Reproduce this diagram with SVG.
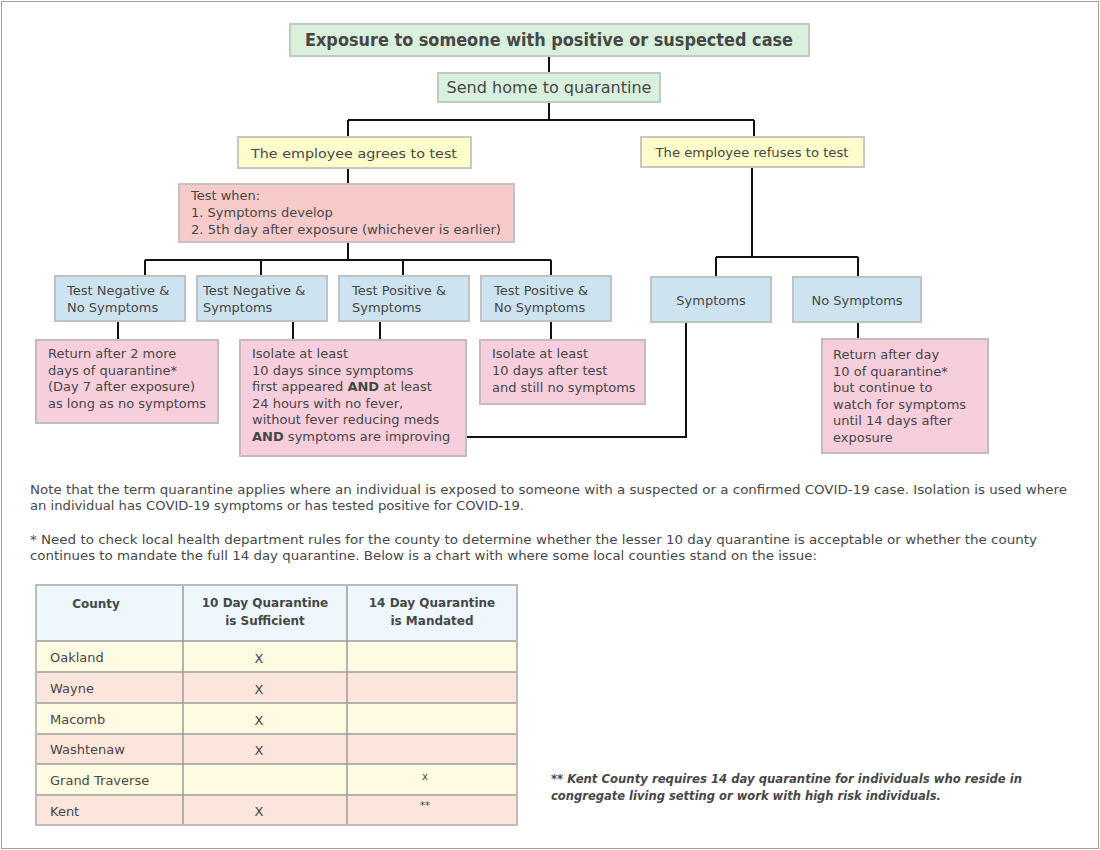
<svg xmlns="http://www.w3.org/2000/svg" width="1100" height="850" viewBox="0 0 1100 850">
<style>
text{font-family:"DejaVu Sans","Liberation Sans",sans-serif;fill:#474747;font-size:13px}
.green{fill:#d9f0dd;stroke:#c4c8c4;stroke-width:2}
.yellow{fill:#fdfdcb;stroke:#c8c8c0;stroke-width:2}
.salmon{fill:#f8cbcb;stroke:#c8c0c0;stroke-width:2}
.blue{fill:#cde3ef;stroke:#bcc2c6;stroke-width:2}
.pink{fill:#f6cedc;stroke:#c2bcbe;stroke-width:2}
.c{text-anchor:middle}
.conn{fill:none;stroke:#111;stroke-width:2}
.grid{stroke:#9c9c9c;stroke-width:1.5;fill:none}
.th{font-weight:bold;font-size:12px}
.note{font-size:12.5px}
</style>
<rect x="1.5" y="1.5" width="1097" height="847" fill="#fff" stroke="#a0a0a0" stroke-width="1"/>

<g id="connectors">
<path class="conn" d="M549 56V73M549 102V120M348 120H754M348 120V137M754 120V137"/>
<path class="conn" d="M348 168V184M348 242V260M145 260H551M145 260V276M261 260V276M403 260V276M551 260V276"/>
<path class="conn" d="M752 167V257M716 257H858M716 257V277M858 257V277"/>
<path class="conn" d="M118 321V340M293 321V340M380 321V340M551 321V340M858 322V339"/>
<path class="conn" d="M466 437H686V322"/>
</g>

<g id="n-exposure">
<rect class="green" x="290" y="24" width="519" height="32"/>
<text class="c" x="549" y="46" style="font-weight:bold;font-size:17px" textLength="488" lengthAdjust="spacingAndGlyphs">Exposure to someone with positive or suspected case</text>
</g>
<g id="n-sendhome">
<rect class="green" x="438" y="73" width="222" height="29"/>
<text class="c" x="549" y="93" style="font-size:15.5px" textLength="205" lengthAdjust="spacingAndGlyphs">Send home to quarantine</text>
</g>
<g id="n-agrees">
<rect class="yellow" x="238" y="137" width="233" height="31"/>
<text class="c" x="354" y="158" style="font-size:13px" textLength="206" lengthAdjust="spacingAndGlyphs">The employee agrees to test</text>
</g>
<g id="n-refuses">
<rect class="yellow" x="641" y="137" width="223" height="30"/>
<text class="c" x="752" y="157" style="font-size:13px" textLength="193" lengthAdjust="spacingAndGlyphs">The employee refuses to test</text>
</g>
<g id="n-testwhen">
<rect class="salmon" x="179" y="184" width="335" height="58"/>
<text x="191" y="200">Test when:</text>
<text x="191" y="217">1. Symptoms develop</text>
<text x="191" y="234" textLength="310" lengthAdjust="spacingAndGlyphs">2. 5th day after exposure (whichever is earlier)</text>
</g>
<g id="n-negnosym">
<rect class="blue" x="55" y="276" width="130" height="45"/>
<text x="67" y="295">Test Negative &amp;</text>
<text x="67" y="312">No Symptoms</text>
</g>
<g id="n-negsym">
<rect class="blue" x="197" y="276" width="130" height="45"/>
<text x="203" y="295">Test Negative &amp;</text>
<text x="203" y="312">Symptoms</text>
</g>
<g id="n-possym">
<rect class="blue" x="339" y="276" width="130" height="45"/>
<text x="352" y="295">Test Positive &amp;</text>
<text x="352" y="312">Symptoms</text>
</g>
<g id="n-posnosym">
<rect class="blue" x="481" y="276" width="130" height="45"/>
<text x="494" y="295">Test Positive &amp;</text>
<text x="494" y="312">No Symptoms</text>
</g>
<g id="n-symptoms">
<rect class="blue" x="651" y="277" width="120" height="45"/>
<text class="c" x="711" y="305">Symptoms</text>
</g>
<g id="n-nosymptoms">
<rect class="blue" x="793" y="277" width="128" height="45"/>
<text class="c" x="857" y="305">No Symptoms</text>
</g>
<g id="n-return2">
<rect class="pink" x="36" y="340" width="182" height="83"/>
<text x="48" y="358">Return after 2 more</text>
<text x="48" y="375">days of quarantine*</text>
<text x="48" y="391">(Day 7 after exposure)</text>
<text x="48" y="408">as long as no symptoms</text>
</g>
<g id="n-isolate10sym">
<rect class="pink" x="240" y="340" width="226" height="116"/>
<text x="252" y="358">Isolate at least</text>
<text x="252" y="375">10 days since symptoms</text>
<text x="252" y="391">first appeared <tspan font-weight="bold">AND</tspan> at least</text>
<text x="252" y="408">24 hours with no fever,</text>
<text x="252" y="424">without fever reducing meds</text>
<text x="252" y="441"><tspan font-weight="bold">AND</tspan> symptoms are improving</text>
</g>
<g id="n-isolate10test">
<rect class="pink" x="480" y="340" width="165" height="64"/>
<text x="492" y="358">Isolate at least</text>
<text x="492" y="375">10 days after test</text>
<text x="492" y="392">and still no symptoms</text>
</g>
<g id="n-returnday10">
<rect class="pink" x="822" y="339" width="166" height="114"/>
<text x="833" y="359">Return after day</text>
<text x="833" y="376">10 of quarantine*</text>
<text x="833" y="392">but continue to</text>
<text x="833" y="409">watch for symptoms</text>
<text x="833" y="425">until 14 days after</text>
<text x="833" y="442">exposure</text>
</g>

<g id="notes">
<text class="note" x="30" y="494" textLength="1037" lengthAdjust="spacingAndGlyphs">Note that the term quarantine applies where an individual is exposed to someone with a suspected or a confirmed COVID-19 case. Isolation is used where</text>
<text class="note" x="30" y="510" textLength="494" lengthAdjust="spacingAndGlyphs">an individual has COVID-19 symptoms or has tested positive for COVID-19.</text>
<text class="note" x="30" y="544" textLength="1007" lengthAdjust="spacingAndGlyphs">* Need to check local health department rules for the county to determine whether the lesser 10 day quarantine is acceptable or whether the county</text>
<text class="note" x="30" y="560" textLength="787" lengthAdjust="spacingAndGlyphs">continues to mandate the full 14 day quarantine. Below is a chart with where some local counties stand on the issue:</text>
</g>

<g id="table">
<rect x="36" y="585" width="481" height="56" fill="#eef7fb"/>
<rect x="36" y="641" width="481" height="31" fill="#fefbe2"/>
<rect x="36" y="672" width="481" height="31" fill="#fce6dc"/>
<rect x="36" y="703" width="481" height="31" fill="#fefbe2"/>
<rect x="36" y="734" width="481" height="30" fill="#fce6dc"/>
<rect x="36" y="764" width="481" height="31" fill="#fefbe2"/>
<rect x="36" y="795" width="481" height="30" fill="#fce6dc"/>
<path class="grid" d="M36 641H517M36 672H517M36 703H517M36 734H517M36 764H517M36 795H517M183 585V825M347 585V825"/>
<rect x="36" y="585" width="481" height="240" fill="none" stroke="#bcbcbc" stroke-width="2"/>
<text class="th c" x="96" y="608">County</text>
<text class="th c" x="265" y="607">10 Day Quarantine</text>
<text class="th c" x="265" y="625">is Sufficient</text>
<text class="th c" x="432" y="607">14 Day Quarantine</text>
<text class="th c" x="432" y="625">is Mandated</text>
<text x="50" y="662">Oakland</text>
<text x="50" y="693">Wayne</text>
<text x="50" y="724">Macomb</text>
<text x="50" y="754">Washtenaw</text>
<text x="50" y="785">Grand Traverse</text>
<text x="50" y="816">Kent</text>
<text class="c" x="259" y="663">X</text>
<text class="c" x="259" y="694">X</text>
<text class="c" x="259" y="725">X</text>
<text class="c" x="259" y="755">X</text>
<text class="c" x="259" y="816">X</text>
<text class="c" x="425" y="780" style="font-size:10px">x</text>
<text class="c" x="425" y="809" style="font-size:10px">**</text>
</g>

<g id="kent-note">
<text x="551" y="783" style="font-weight:bold;font-style:italic;font-size:12.5px" textLength="471" lengthAdjust="spacingAndGlyphs">** Kent County requires 14 day quarantine for individuals who reside in</text>
<text x="551" y="800" style="font-weight:bold;font-style:italic;font-size:12.5px" textLength="390" lengthAdjust="spacingAndGlyphs">congregate living setting or work with high risk individuals.</text>
</g>
</svg>
